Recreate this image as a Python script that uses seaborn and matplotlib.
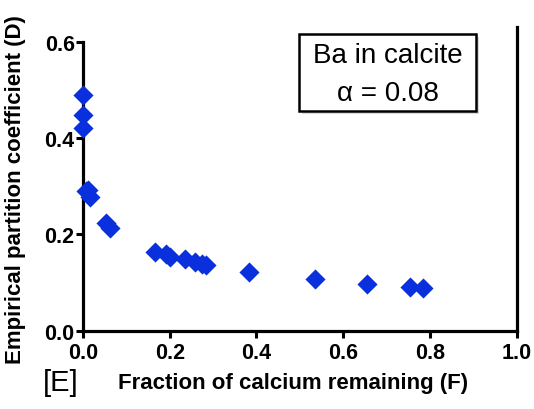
import matplotlib
matplotlib.use("Agg")
import matplotlib.pyplot as plt
import seaborn as sns
import pandas as pd
from matplotlib.patches import Rectangle

sns.set_style("ticks")
plt.rcParams['font.family'] = ['Liberation Sans', 'DejaVu Sans']
plt.rcParams['text.color'] = 'black'
plt.rcParams['xtick.color'] = 'black'
plt.rcParams['ytick.color'] = 'black'

fraction_remaining = [0.0, 0.0, 0.0, 0.006, 0.0115, 0.015, 0.052, 0.062,
                      0.166, 0.192, 0.200, 0.235, 0.258, 0.275, 0.283,
                      0.383, 0.535, 0.655, 0.754, 0.783]
partition_coeff = [0.490, 0.448, 0.421, 0.291, 0.293, 0.277, 0.2235, 0.213,
                   0.1626, 0.159, 0.152, 0.149, 0.142, 0.138, 0.136,
                   0.1225, 0.107, 0.097, 0.090, 0.088]
x_ticks = [0.0, 0.2, 0.4, 0.6, 0.8, 1.0]
y_ticks = [0.0, 0.2, 0.4, 0.6]
x_tick_labels = ["0.0", "0.2", "0.4", "0.6", "0.8", "1.0"]
y_tick_labels = ["0.0", "0.2", "0.4", "0.6"]
box_lines = ["Ba in calcite", "α = 0.08"]

df = pd.DataFrame({"F": fraction_remaining, "D": partition_coeff})

fig = plt.figure(figsize=(5.34, 4.10), dpi=100)
ax = fig.add_axes([83/534, 1-331.7/410, (516.7-83)/534, (331.7-28.2)/410])

sns.scatterplot(data=df, x="F", y="D", marker="D", s=105, color="#0a2fdc",
                edgecolor="#0a2fdc", linewidth=0, ax=ax, clip_on=False, zorder=5)

ax.set_xlim(0, 1.0)
ax.set_ylim(0, 0.63)
ax.set_xticks(x_ticks)
ax.set_yticks(y_ticks)
ax.tick_params(axis="both", direction="out", length=5, width=2.2, pad=1,
               color="black", labelsize=15.5, labelcolor="black")
ax.tick_params(axis="x", pad=3)
ax.set_xticklabels(x_tick_labels, fontweight="bold", fontsize=15.5)
ax.set_yticklabels(y_tick_labels, fontweight="bold", fontsize=15.5)

for side in ["left", "bottom", "right"]:
    ax.spines[side].set_linewidth(2.3)
    ax.spines[side].set_color("black")
ax.spines["top"].set_visible(False)
ax.spines["left"].set_bounds(0, 0.6)
ax.yaxis.set_ticks_position("left")

ax.set_xlabel("")
ax.set_ylabel("")
fig.text(293/534, 1-384/410, "Fraction of calcium remaining (F)", ha="center", va="center",
         fontsize=16, fontweight="bold", color="black")
fig.text(16/534, 1-190/410, "Empirical partition coefficient (D)", ha="center", va="center",
         rotation=90, fontsize=16, fontweight="bold", color="black")
fig.text(61/534, 1-383/410, "[E]", ha="center", va="center", fontsize=21, color="black")

# legend-like box with shadow
fig.patches.append(Rectangle((302/534, 1-115/410), 177/534, 77/410, transform=fig.transFigure,
                             facecolor="#d9d9d9", edgecolor="none", zorder=1))
fig.patches.append(Rectangle((299/534, 1-112/410), 177/534, 77/410, transform=fig.transFigure,
                             facecolor="white", edgecolor="black", linewidth=1.8, zorder=2))
fig.text(388/534, 1-56/410, box_lines[0], ha="center", va="center", fontsize=20, color="black", zorder=3)
fig.text(388/534, 1-94/410, box_lines[1], ha="center", va="center", fontsize=20, color="black", zorder=3)

fig.savefig("out.png", dpi=100)
